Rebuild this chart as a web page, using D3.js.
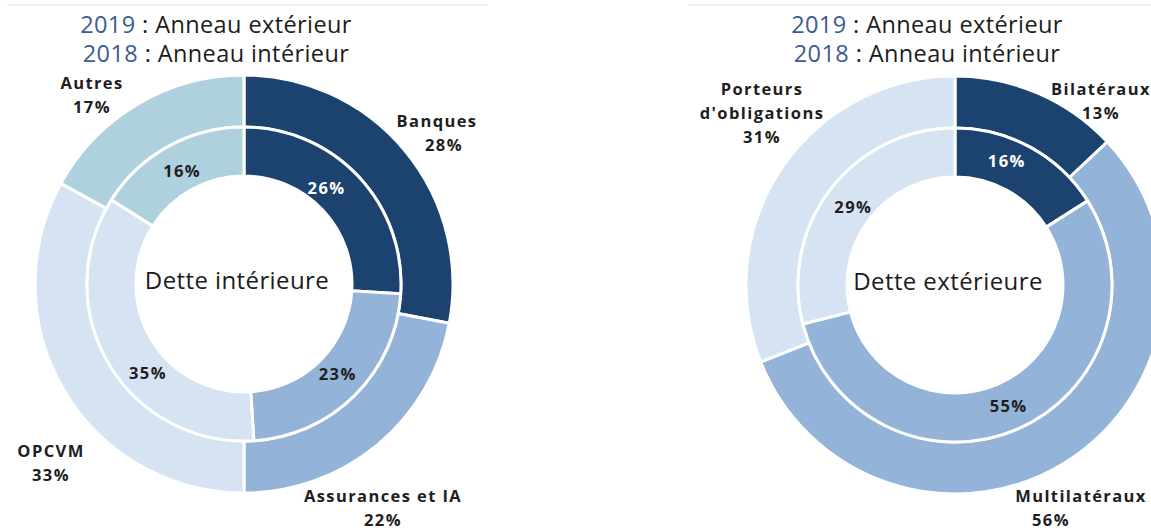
<!DOCTYPE html>
<html>

<head>
    <meta charset="utf-8">
    <script src="https://d3js.org/d3.v7.min.js"></script>
    <style>
        body {
            margin: 0;
            background: #fff;
        }

        svg text {
            font-family: "Open Sans", sans-serif;
        }

        .head {
            font-size: 23.5px;
            fill: #1c1c1c;
            letter-spacing: 0.4px;
        }

        .head .year {
            fill: #3b5d91;
        }

        .lbl {
            font-size: 16.5px;
            font-weight: 700;
            fill: #1e1e1e;
            letter-spacing: 1.4px;
        }

        .title {
            font-size: 24px;
            fill: #1c1c1c;
            letter-spacing: 0.4px;
        }
    </style>
</head>

<body>
    <div id="chart"></div>

    <script>
        // data (percent)
        var domCats = ["Banques", "Assurances et IA", "OPCVM", "Autres"];
        var dom2019 = [28, 22, 33, 17];
        var dom2018 = [26, 23, 35, 16];
        var domColors = ["#1c436f", "#93b3d8", "#d6e3f2", "#afd0dd"];

        var extCats = ["Bilatéraux", "Multilatéraux", "Porteurs d'obligations"];
        var ext2019 = [13, 56, 31];
        var ext2018 = [16, 55, 29];
        var extColors = ["#1c436f", "#93b3d8", "#d6e3f2"];

        var headLines = [["2019", " : Anneau extérieur"], ["2018", " : Anneau intérieur"]];

        var width = 1151, height = 530;

        var svg = d3.select("#chart")
            .append("svg")
            .attr("width", width)
            .attr("height", height);

        // thin grey rules at the top
        svg.append("rect").attr("x", 7).attr("y", 4).attr("width", 481).attr("height", 2).attr("fill", "#efefef");
        svg.append("rect").attr("x", 688).attr("y", 4).attr("width", 463).attr("height", 2).attr("fill", "#efefef");

        var pie = d3.pie().sort(null).value(function (d) { return d; });

        var innerArc = d3.arc().innerRadius(108).outerRadius(157);
        var outerArc = d3.arc().innerRadius(157).outerRadius(209);

        function donut(cfg) {
            var g = svg.append("g")
                .attr("transform", "translate(" + cfg.cx + "," + cfg.cy + ")");

            var color = d3.scaleOrdinal().domain(cfg.cats).range(cfg.colors);

            g.selectAll("path.outer")
                .data(pie(cfg.outer))
                .enter()
                .append("path")
                .attr("class", "outer")
                .attr("d", outerArc)
                .attr("fill", function (d, i) { return color(cfg.cats[i]); })
                .attr("stroke", "#fff")
                .attr("stroke-width", 3);

            g.selectAll("path.inner")
                .data(pie(cfg.inner))
                .enter()
                .append("path")
                .attr("class", "inner")
                .attr("d", innerArc)
                .attr("fill", function (d, i) { return color(cfg.cats[i]); })
                .attr("stroke", "#fff")
                .attr("stroke-width", 3);

            // inner ring values at the slice centroid (with small nudges)
            g.selectAll("text.inval")
                .data(pie(cfg.inner))
                .enter()
                .append("text")
                .attr("class", "lbl")
                .attr("text-anchor", "middle")
                .attr("dy", "0.35em")
                .attr("transform", function (d, i) {
                    var c = innerArc.centroid(d), n = cfg.nudge[i];
                    return "translate(" + (c[0] + n[0]) + "," + (c[1] + n[1]) + ")";
                })
                .style("fill", function (d, i) { return i === 0 ? "#fff" : "#1e1e1e"; })
                .text(function (d) { return d.data + "%"; });

            // outer ring callouts: name lines then 2019 value
            cfg.outer.forEach(function (v, i) {
                var p = cfg.callout[i];
                var lines = cfg.names[i].concat([v + "%"]);
                var t = svg.append("text")
                    .attr("class", "lbl")
                    .attr("text-anchor", "middle");
                lines.forEach(function (s, k) {
                    t.append("tspan")
                        .attr("x", p[0] + (k === lines.length - 1 ? p[2] : 0))
                        .attr("y", p[1] + k * 24)
                        .text(s);
                });
            });

            svg.append("text")
                .attr("class", "title")
                .attr("text-anchor", "middle")
                .attr("x", cfg.cx - 7)
                .attr("y", cfg.cy + 5)
                .text(cfg.title);

            var h = svg.append("text")
                .attr("class", "head")
                .attr("text-anchor", "middle");
            headLines.forEach(function (l, k) {
                var ts = h.append("tspan").attr("x", cfg.hx).attr("y", 33 + k * 29);
                ts.append("tspan").attr("class", "year").text(l[0]);
                ts.append("tspan").text(l[1]);
            });
        }

        donut({
            cx: 244, cy: 284, hx: 216,
            cats: domCats, colors: domColors,
            outer: dom2019, inner: dom2018,
            names: [["Banques"], ["Assurances et IA"], ["OPCVM"], ["Autres"]],
            callout: [[437, 127, 7], [383, 502, 0], [51, 457, 0], [92, 89, 0]],
            nudge: [[-14, -5], [0, -3], [18, 22], [2, 3]],
            title: "Dette intérieure"
        });

        donut({
            cx: 955, cy: 285, hx: 927,
            cats: extCats, colors: extColors,
            outer: ext2019, inner: ext2018,
            names: [["Bilatéraux"], ["Multilatéraux"], ["Porteurs", "d'obligations"]],
            callout: [[1101, 95, 0], [1081, 502, -30], [762, 95, 0]],
            nudge: [[-12, -8], [1, 0], [3, 3]],
            title: "Dette extérieure"
        });
    </script>
</body>

</html>
